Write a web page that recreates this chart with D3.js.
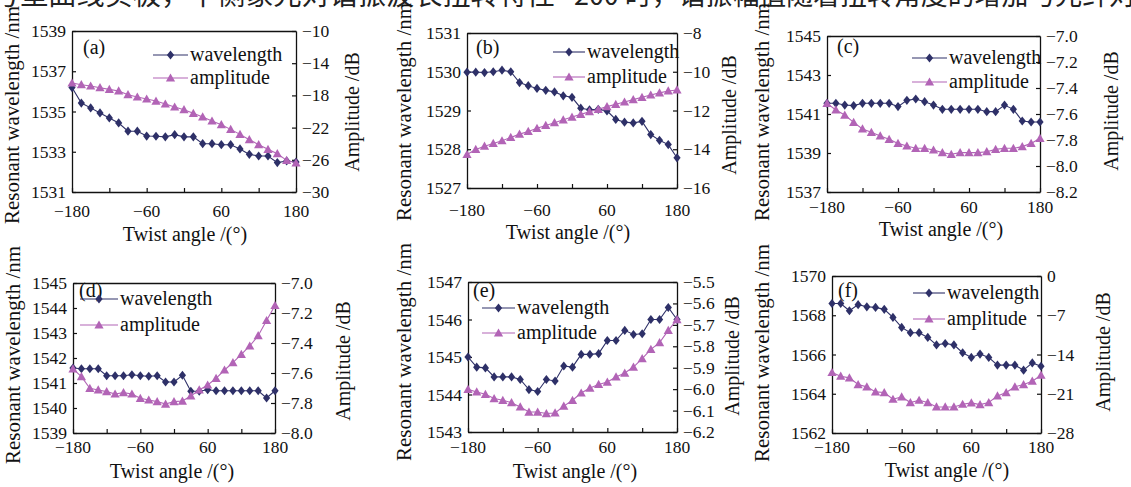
<!DOCTYPE html>
<html><head><meta charset="utf-8">
<script src="https://cdn.jsdelivr.net/npm/d3@7"></script>
<style>body{margin:0;background:#fff}svg{display:block}</style>
</head><body>
<svg id="chart" width="1131" height="487"></svg>
<script>
// ---------------- data ----------------
const angles = [-180,-165,-150,-135,-120,-105,-90,-75,-60,-45,-30,-15,0,15,30,45,60,75,90,105,120,135,150,165,180];
const xTicks = [-180,-120,-60,0,60,120,180];
const xTickLabels = [-180,-60,60,180];
const seriesNames = ["wavelength","amplitude"];
const panelLabels = ["(a)","(b)","(c)","(d)","(e)","(f)"];

const wlA  = [1536.19,1535.42,1535.18,1534.93,1534.68,1534.43,1534.02,1534.02,1533.78,1533.77,1533.74,1533.85,1533.74,1533.74,1533.40,1533.40,1533.35,1533.35,1533.14,1532.87,1532.79,1532.79,1532.46,1532.54,1532.49];
const ampA = [-16.46,-16.67,-16.83,-17.04,-17.25,-17.45,-17.91,-18.20,-18.45,-18.70,-19.07,-19.44,-19.77,-20.23,-20.68,-21.18,-21.64,-22.22,-22.84,-23.50,-24.12,-24.70,-25.24,-26.07,-26.40];
const wlTicksA = [1531,1533,1535,1537,1539];
const ampTicksA = [-10,-14,-18,-22,-26,-30];

const wlB  = [1529.99,1529.99,1529.98,1530.00,1530.04,1530.00,1529.72,1529.64,1529.57,1529.52,1529.48,1529.38,1529.34,1529.06,1529.02,1529.03,1528.99,1528.77,1528.70,1528.68,1528.72,1528.38,1528.23,1528.12,1527.78];
const ampB = [-14.27,-14.01,-13.84,-13.70,-13.56,-13.39,-13.22,-13.08,-12.92,-12.77,-12.63,-12.48,-12.34,-12.20,-12.06,-11.94,-11.80,-11.68,-11.56,-11.44,-11.32,-11.20,-11.09,-10.99,-10.94];
const wlTicksB = [1527,1528,1529,1530,1531];
const ampTicksB = [-8,-10,-12,-14,-16];

const wlC  = [1541.55,1541.55,1541.46,1541.43,1541.55,1541.55,1541.55,1541.55,1541.38,1541.70,1541.77,1541.63,1541.46,1541.24,1541.24,1541.24,1541.24,1541.24,1541.12,1541.12,1541.46,1541.24,1540.64,1540.59,1540.59];
const ampC = [-7.518,-7.569,-7.608,-7.664,-7.715,-7.741,-7.769,-7.795,-7.826,-7.846,-7.864,-7.864,-7.877,-7.897,-7.910,-7.897,-7.897,-7.897,-7.890,-7.872,-7.864,-7.864,-7.851,-7.826,-7.787];
const wlTicksC = [1537,1539,1541,1543,1545];
const ampTicksC = [-7.0,-7.2,-7.4,-7.6,-7.8,-8.0,-8.2];

const wlD  = [1541.60,1541.57,1541.57,1541.57,1541.29,1541.29,1541.29,1541.33,1541.29,1541.27,1541.29,1541.04,1541.04,1541.31,1540.67,1540.67,1540.73,1540.69,1540.69,1540.69,1540.69,1540.69,1540.69,1540.40,1540.69];
const ampD = [-7.573,-7.624,-7.702,-7.713,-7.724,-7.740,-7.731,-7.740,-7.769,-7.780,-7.791,-7.807,-7.791,-7.787,-7.753,-7.713,-7.680,-7.636,-7.580,-7.531,-7.476,-7.420,-7.351,-7.250,-7.150];
const wlTicksD = [1539,1540,1541,1542,1543,1544,1545];
const ampTicksD = [-7.0,-7.2,-7.4,-7.6,-7.8,-8.0];

const wlE  = [1545.00,1544.73,1544.71,1544.47,1544.47,1544.47,1544.40,1544.13,1544.08,1544.40,1544.36,1544.76,1544.73,1545.07,1545.07,1545.09,1545.44,1545.44,1545.71,1545.60,1545.62,1546.00,1546.00,1546.32,1546.00];
const ampE = [-6.001,-6.013,-6.024,-6.044,-6.052,-6.063,-6.083,-6.107,-6.107,-6.114,-6.111,-6.079,-6.052,-6.018,-5.995,-5.978,-5.967,-5.943,-5.925,-5.897,-5.858,-5.814,-5.783,-5.726,-5.676];
const wlTicksE = [1543,1544,1545,1546,1547];
const ampTicksE = [-5.5,-5.6,-5.7,-5.8,-5.9,-6.0,-6.1,-6.2];

const wlF  = [1568.60,1568.60,1568.23,1568.54,1568.43,1568.40,1568.30,1567.89,1567.38,1567.11,1567.11,1566.87,1566.49,1566.56,1566.49,1566.09,1565.85,1566.02,1565.85,1565.46,1565.46,1565.46,1565.20,1565.57,1565.40];
const ampF = [-17.21,-17.87,-18.17,-19.36,-19.77,-20.67,-20.79,-21.98,-21.56,-22.57,-22.16,-22.57,-23.35,-23.35,-23.35,-22.87,-22.63,-22.93,-22.57,-21.38,-20.79,-19.77,-19.36,-18.76,-17.69];
const wlTicksF = [1562,1564,1566,1568,1570];
const ampTicksF = [0,-7,-14,-21,-28];

const headText1 = "号型曲线实极，平侧象光对谐振波长扭转特性";
const headText2 = "200 时，谐振幅值随着扭转角度的增加与光纤对";
const xTitle = "Twist angle /(°)";
const leftTitle = "Resonant wavelength /nm";
const rightTitle = "Amplitude /dB";

// ---------------- layout ----------------
const COL_WL = "#2e3068";
const COL_AMP = "#b264b6";
const FONT = "'Liberation Serif','Times New Roman',serif";

const panels = [
  {wl:wlA, amp:ampA, wt:wlTicksA, at:ampTicksA, dec:0, x0:72,  x1:296, y0:31,  y1:192, lab:[83,54],  leg:[153,188,55,78],  tickY:217, titleX:185, titleY:241, lt:[12,115],  rt:[352,112]},
  {wl:wlB, amp:ampB, wt:wlTicksB, at:ampTicksB, dec:0, x0:467, x1:677, y0:33,  y1:188, lab:[476,54], leg:[553,585,52,77],  tickY:216, titleX:568, titleY:239, lt:[404,112], rt:[729,115]},
  {wl:wlC, amp:ampC, wt:wlTicksC, at:ampTicksC, dec:1, x0:827, x1:1040,y0:36,  y1:192, lab:[837,53], leg:[912,947,58,82],  tickY:213, titleX:941, titleY:236, lt:[762,112], rt:[1111,111]},
  {wl:wlD, amp:ampD, wt:wlTicksD, at:ampTicksD, dec:1, x0:73,  x1:275, y0:283, y1:433, lab:[79,297], leg:[80,118,299,325], tickY:453, titleX:172, titleY:478, lt:[13,355],  rt:[343,361]},
  {wl:wlE, amp:ampE, wt:wlTicksE, at:ampTicksE, dec:1, x0:468, x1:677, y0:282, y1:432, lab:[473,297],leg:[482,515,308,333], tickY:453, titleX:575, titleY:478, lt:[404,352], rt:[732,356]},
  {wl:wlF, amp:ampF, wt:wlTicksF, at:ampTicksF, dec:0, x0:832, x1:1041,y0:276, y1:433, lab:[838,297],leg:[913,945,293,319], tickY:453, titleX:947, titleY:477, lt:[762,353], rt:[1103,352]}
];

const svg = d3.select("#chart");
svg.append("rect").attr("width",1131).attr("height",487).attr("fill","#fff");

// cropped heading line
svg.append("text").attr("x",-8).attr("y",5).attr("font-family","'Noto Sans CJK SC'").attr("font-size",28)
  .attr("textLength",563).attr("lengthAdjust","spacingAndGlyphs").attr("fill","#222").text(headText1);
svg.append("text").attr("x",574).attr("y",5).attr("font-family","'Noto Sans CJK SC'").attr("font-size",28)
  .attr("textLength",562).attr("lengthAdjust","spacingAndGlyphs").attr("fill","#222").text(headText2);

const diamond = "M0,-4.6L3.6,0L0,4.6L-3.6,0Z";
const triangle = "M0,-4.6L4.6,3.6L-4.6,3.6Z";
const fmtMinus = (v,dec) => (v<0?"\u2212":"") + Math.abs(v).toFixed(dec);

panels.forEach((p,i) => {
  const g = svg.append("g");
  const x = d3.scaleLinear().domain([-180,180]).range([p.x0,p.x1]);
  const yL = d3.scaleLinear().domain(d3.extent(p.wt)).range([p.y1,p.y0]);
  const yR = d3.scaleLinear().domain(d3.extent(p.at)).range([p.y1,p.y0]);

  // axes (inner ticks)
  const axB = g.append("g").attr("transform",`translate(0,${p.y1})`)
    .call(d3.axisBottom(x).tickValues(xTicks).tickSizeInner(-4).tickSizeOuter(0).tickFormat(""));
  const axT = g.append("g").attr("transform",`translate(0,${p.y0})`)
    .call(d3.axisTop(x).tickValues([]).tickSizeOuter(0));
  const axL = g.append("g").attr("transform",`translate(${p.x0},0)`)
    .call(d3.axisLeft(yL).tickValues(p.wt).tickSizeInner(-4).tickSizeOuter(0).tickFormat(""));
  const axR = g.append("g").attr("transform",`translate(${p.x1},0)`)
    .call(d3.axisRight(yR).tickValues(p.at).tickSizeInner(-4).tickSizeOuter(0).tickFormat(""));
  [axB,axT,axL,axR].forEach(a => { a.selectAll("path").attr("stroke","#111").attr("stroke-width",1.3); a.selectAll("line").attr("stroke","#111").attr("stroke-width",1.2); });

  // tick labels
  g.selectAll(".xl").data(xTickLabels).join("text")
    .attr("x",d=>x(d)).attr("y",p.tickY).attr("text-anchor","middle")
    .attr("font-family",FONT).attr("font-size",17.5).attr("fill","#111")
    .text(d=>fmtMinus(d,0));
  g.selectAll(".yl").data(p.wt).join("text")
    .attr("x",p.x0-6).attr("y",d=>yL(d)+6).attr("text-anchor","end")
    .attr("font-family",FONT).attr("font-size",17.5).attr("fill","#111").text(d=>d);
  g.selectAll(".yr").data(p.at).join("text")
    .attr("x",p.x1+6).attr("y",d=>yR(d)+6).attr("text-anchor","start")
    .attr("font-family",FONT).attr("font-size",17.5).attr("fill","#111").text(d=>fmtMinus(d,p.dec));

  // titles
  g.append("text").attr("x",p.titleX).attr("y",p.titleY).attr("text-anchor","middle")
    .attr("font-family",FONT).attr("font-size",20).attr("fill","#111").text(xTitle);
  g.append("text").attr("transform",`translate(${p.lt[0]+7},${p.lt[1]}) rotate(-90)`).attr("text-anchor","middle")
    .attr("font-family",FONT).attr("font-size",21).attr("fill","#111").text(leftTitle);
  g.append("text").attr("transform",`translate(${p.rt[0]+7},${p.rt[1]}) rotate(-90)`).attr("text-anchor","middle")
    .attr("font-family",FONT).attr("font-size",20).attr("fill","#111").text(rightTitle);

  // series
  const pts = angles.map((a,k)=>({a, w:p.wl[k], m:p.amp[k]}));
  const lineW = d3.line().x(d=>x(d.a)).y(d=>yL(d.w));
  const lineA = d3.line().x(d=>x(d.a)).y(d=>yR(d.m));
  g.append("path").attr("d",lineW(pts)).attr("fill","none").attr("stroke",COL_WL).attr("stroke-width",1.1);
  g.selectAll(".dw").data(pts).join("path").attr("d",diamond)
    .attr("transform",d=>`translate(${x(d.a)},${yL(d.w)})`).attr("fill",COL_WL);
  g.append("path").attr("d",lineA(pts)).attr("fill","none").attr("stroke",COL_AMP).attr("stroke-width",1.1);
  g.selectAll(".ta").data(pts).join("path").attr("d",triangle)
    .attr("transform",d=>`translate(${x(d.a)},${yR(d.m)})`).attr("fill",COL_AMP);

  // panel label
  g.append("text").attr("x",p.lab[0]).attr("y",p.lab[1]).attr("font-family",FONT).attr("font-size",20).attr("fill","#111").text(panelLabels[i]);

  // legend
  const [lx0,lx1,ly1,ly2] = p.leg;
  [[ly1,COL_WL,diamond,seriesNames[0]],[ly2,COL_AMP,triangle,seriesNames[1]]].forEach(([ly,c,sym,name])=>{
    g.append("line").attr("x1",lx0).attr("x2",lx1).attr("y1",ly).attr("y2",ly).attr("stroke",c).attr("stroke-width",1.1);
    g.append("path").attr("d",sym).attr("transform",`translate(${(lx0+lx1)/2},${ly})`).attr("fill",c);
    g.append("text").attr("x",lx1+2).attr("y",ly+6).attr("font-family",FONT).attr("font-size",20).attr("fill","#111").text(name);
  });
});
</script>
</body></html>
